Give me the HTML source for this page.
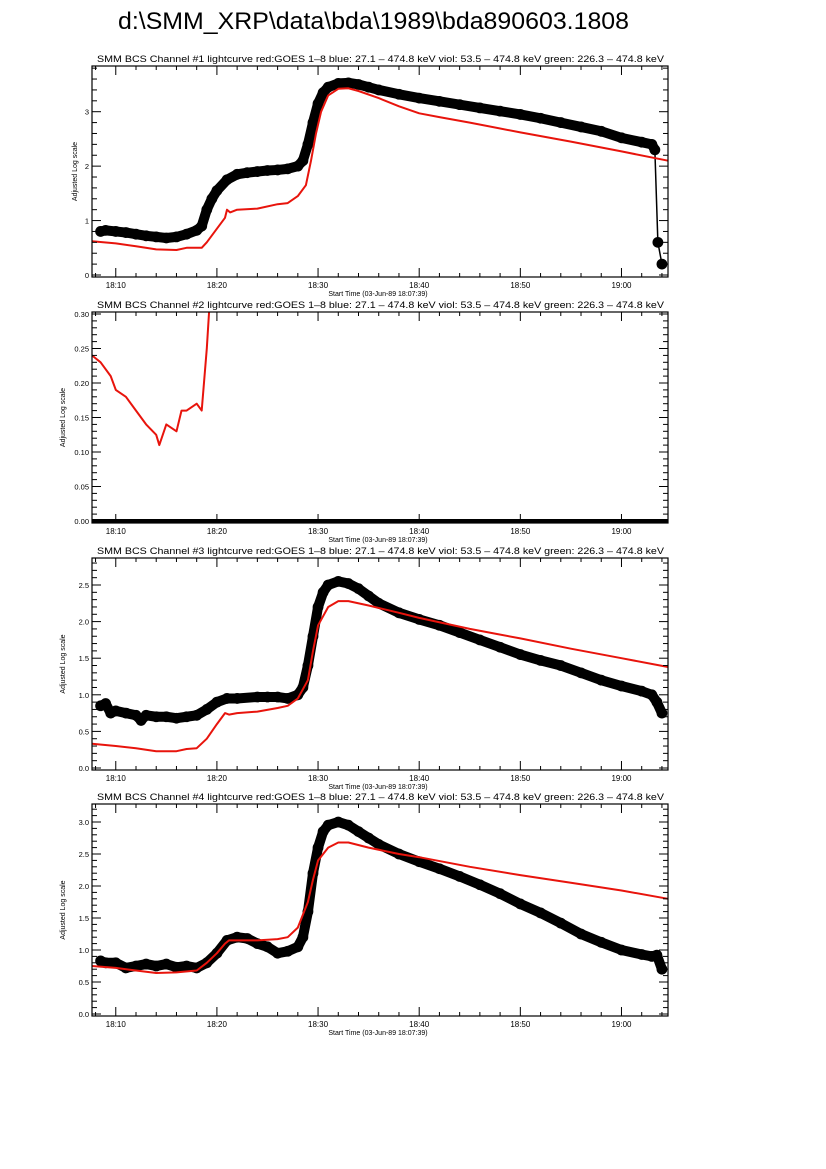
<!DOCTYPE html>
<html><head><meta charset="utf-8">
<style>
body{margin:0;background:#fff;}
svg{display:block;font-family:"Liberation Sans",sans-serif;}
</style></head>
<body>
<svg id="fig" width="826" height="1169" viewBox="0 0 826 1169" xmlns="http://www.w3.org/2000/svg">
<rect width="826" height="1169" fill="#fff"/>
<text x="118" y="29" font-size="24" textLength="511" lengthAdjust="spacingAndGlyphs">d:\SMM_XRP\data\bda\1989\bda890603.1808</text>
</svg>
<script>
// time in minutes after 18:00
const t1b=[8.5,9,10,11,12,13,14,15,16,17,18,18.5,19,19.5,20,21,22,23,24,25,26,27,28,28.5,29,29.5,30,30.5,31,32,33,34,35,36,38,40,42,44,46,48,50,52,54,56,58,60,62,63,63.3,63.6,64];
const v1b=[0.8,0.82,0.8,0.78,0.75,0.72,0.7,0.68,0.7,0.75,0.82,0.9,1.2,1.4,1.55,1.75,1.85,1.88,1.9,1.92,1.93,1.95,2.0,2.1,2.4,2.8,3.15,3.35,3.45,3.52,3.53,3.5,3.45,3.4,3.32,3.25,3.19,3.13,3.07,3.01,2.95,2.88,2.8,2.72,2.64,2.52,2.44,2.4,2.3,0.6,0.2];
const t1r=[7.65,10,12,14,16,17,18,18.5,19,20,20.8,21,21.3,22,24,26,27,28,28.8,29.3,29.8,30.3,31,32,33,34,36,38,40,42,45,50,55,60,64.6];
const v1r=[0.62,0.58,0.53,0.47,0.46,0.5,0.5,0.5,0.6,0.85,1.05,1.2,1.15,1.2,1.22,1.3,1.32,1.45,1.65,2.1,2.6,3.0,3.3,3.42,3.43,3.38,3.25,3.1,2.97,2.9,2.8,2.62,2.45,2.27,2.1];
const t2b=[7.65,64.6];
const v2b=[0,0];
const t2r=[7.65,8.5,9.5,10,11,12,13,14,14.3,15,16,16.5,17,18,18.5,19,19.3];
const v2r=[0.24,0.23,0.21,0.19,0.18,0.16,0.14,0.125,0.11,0.14,0.13,0.16,0.16,0.17,0.16,0.25,0.32];
const t3b=[8.5,9,9.5,10,11,12,12.5,13,14,15,16,17,18,19,20,21,22,24,25,26,27,28,28.5,29,29.5,30,30.5,31,32,33,34,35,36,38,40,42,44,46,48,50,52,54,56,58,60,62,63,63.5,64];
const v3b=[0.85,0.88,0.75,0.78,0.75,0.72,0.65,0.72,0.7,0.7,0.68,0.7,0.72,0.8,0.9,0.95,0.95,0.97,0.97,0.97,0.95,1.0,1.1,1.4,1.8,2.2,2.4,2.5,2.55,2.52,2.45,2.35,2.25,2.12,2.03,1.95,1.85,1.75,1.65,1.55,1.47,1.4,1.3,1.2,1.12,1.05,1.0,0.9,0.75];
const t3r=[7.65,10,12,14,16,17,18,19,20,20.8,21.2,22,24,26,27,28,29,29.5,30,31,32,33,35,38,40,45,50,55,60,64.6];
const v3r=[0.33,0.3,0.27,0.23,0.23,0.26,0.27,0.4,0.6,0.75,0.73,0.75,0.77,0.82,0.85,0.95,1.2,1.6,1.95,2.2,2.28,2.28,2.22,2.12,2.05,1.9,1.77,1.63,1.5,1.38];
const t4b=[8.5,9,10,11,12,13,14,15,16,17,18,19,20,21,22,23,24,25,26,27,28,28.5,29,29.5,30,30.5,31,32,33,34,35,36,38,40,42,44,46,48,50,52,54,56,58,60,62,63,63.5,64];
const v4b=[0.83,0.8,0.8,0.72,0.75,0.78,0.75,0.78,0.73,0.75,0.72,0.8,0.95,1.15,1.2,1.18,1.1,1.05,0.95,0.98,1.05,1.2,1.6,2.2,2.6,2.85,2.95,3.0,2.95,2.85,2.75,2.65,2.5,2.38,2.27,2.15,2.02,1.88,1.72,1.58,1.42,1.25,1.12,1.0,0.93,0.9,0.92,0.7];
const t4r=[7.65,10,12,14,16,18,19,20,20.8,21.2,22,24,26,27,28,29,29.5,30,31,32,33,35,38,40,45,50,55,60,64.6];
const v4r=[0.75,0.72,0.68,0.64,0.65,0.68,0.8,0.95,1.1,1.15,1.15,1.15,1.17,1.2,1.35,1.75,2.1,2.4,2.6,2.68,2.68,2.6,2.5,2.45,2.3,2.17,2.05,1.93,1.8];
const xTickLabels=["18:10","18:20","18:30","18:40","18:50","19:00"];
const xTickMins=[10,20,30,40,50,60];

const NS="http://www.w3.org/2000/svg";
const fig=document.getElementById('fig');
function el(tag,attrs,parent){const e=document.createElementNS(NS,tag);for(const k in attrs)e.setAttribute(k,attrs[k]);(parent||fig).appendChild(e);return e;}
const X0=92,X1=668,T0=7.65,T1=64.6;
function xs(t){return X0+(t-T0)/(T1-T0)*(X1-X0);}

const panels=[
 {n:1,top:66,bot:277,y0:275,yv:3,yp:111.7,min:-0.04,max:3.84,maj:1,minr:0.2,dec:0,tb:t1b,vb:v1b,tr:t1r,vr:v1r,dots:true},
 {n:2,top:312,bot:523,y0:521,yv:0.30,yp:314,min:-0.003,max:0.305,maj:0.05,minr:0.01,dec:2,tb:t2b,vb:v2b,tr:t2r,vr:v2r,dots:false},
 {n:3,top:558,bot:770,y0:768,yv:2.5,yp:585,min:-0.03,max:2.87,maj:0.5,minr:0.1,dec:1,tb:t3b,vb:v3b,tr:t3r,vr:v3r,dots:true},
 {n:4,top:804,bot:1016,y0:1014,yv:3.0,yp:822,min:-0.03,max:3.28,maj:0.5,minr:0.1,dec:1,tb:t4b,vb:v4b,tr:t4r,vr:v4r,dots:true}
];
panels.forEach(p=>{
 const g=el('g',{});
 
 
 const ys=v=>p.y0+(v/p.yv)*(p.yp-p.y0);
 const st=el('text',{x:97,y:p.top-4,'font-size':9,textLength:567,lengthAdjust:'spacingAndGlyphs'},g);
 st.textContent='SMM BCS Channel #'+p.n+' lightcurve  red:GOES 1\u20138  blue: 27.1 \u2013 474.8 keV  viol: 53.5 \u2013 474.8 keV  green: 226.3 \u2013 474.8 keV';
 
 
 const cid='clip'+p.n;
 const cp=el('clipPath',{id:cid},g);el('rect',{x:X0-6,y:p.top,width:X1-X0+10,height:p.bot-p.top},cp);
 const dg=el('g',{'clip-path':'url(#'+cid+')'},g);
 if(p.dots){
  for(let i=1;i<p.tb.length;i++){
   const xa=xs(p.tb[i-1]),ya=ys(p.vb[i-1]),xb=xs(p.tb[i]),yb=ys(p.vb[i]);
   const d=Math.hypot(xb-xa,yb-ya);
   const thin=(Math.abs(xb-xa)<4.5&&d>15);
   const sg=el('line',{x1:xa,y1:ya,x2:xb,y2:yb,stroke:'#000','stroke-width':thin?1.5:10,'stroke-linecap':'round'},dg);
   
   
  }
  p.tb.forEach((t,i)=>{
   const c=el('circle',{cx:xs(t),cy:ys(p.vb[i]),r:5.4,fill:'#000'},dg);
   
   
  });
 } else {
  const bpts=p.tb.map((t,i)=>xs(t).toFixed(1)+','+ys(p.vb[i]).toFixed(1)).join(' ');
  const bl=el('polyline',{points:bpts,fill:'none',stroke:'#000','stroke-width':4},dg);
  
  
 }
 const rpts=p.tr.map((t,i)=>xs(t).toFixed(1)+','+ys(p.vr[i]).toFixed(1)).join(' ');
 const rl=el('polyline',{points:rpts,fill:'none',stroke:'#e8140c','stroke-width':2,'stroke-linejoin':'round'},dg);
 
 
 const fr=el('rect',{x:X0,y:p.top,width:X1-X0,height:p.bot-p.top,fill:'none',stroke:'#000','stroke-width':1.2},g);
 
 
 for(let m=8;m<=64;m+=2){
  const x=xs(m),L=(m%10===0)?9:4;
  el('line',{x1:x,x2:x,y1:p.bot,y2:p.bot-L,stroke:'#000'},g);
  el('line',{x1:x,x2:x,y1:p.top,y2:p.top+L,stroke:'#000'},g);
 }
 xTickMins.forEach((m,i)=>{
  const tl=el('text',{x:xs(m),y:p.bot+11,'font-size':8,'text-anchor':'middle'},g);
  tl.textContent=xTickLabels[i];
  
  
 });
 const xl=el('text',{x:378,y:p.bot+19,'font-size':7,'text-anchor':'middle'},g);
 xl.textContent='Start Time (03-Jun-89 18:07:39)';
 
 
 const nMin=Math.ceil(p.min/p.minr-1e-6),nMax=Math.floor(p.max/p.minr+1e-6);
 const per=Math.round(p.maj/p.minr);
 for(let k=nMin;k<=nMax;k++){
  const v=k*p.minr,y=ys(v),major=(k%per===0),L=major?9:5;
  if(y<p.top-0.5||y>p.bot+0.5)continue;
  el('line',{x1:X0,x2:X0+L,y1:y,y2:y,stroke:'#000'},g);
  el('line',{x1:X1,x2:X1-L,y1:y,y2:y,stroke:'#000'},g);
  if(major){
   const yl=el('text',{x:X0-3,y:y+3,'font-size':7.5,'text-anchor':'end'},g);
   yl.textContent=v.toFixed(p.dec);
   
   
  }
 }
 const cy=(p.top+p.bot)/2;
 const yt=el('text',{x:0,y:0,'font-size':7,'text-anchor':'middle',transform:'translate('+(p.n==1?77:65)+','+cy+') rotate(-90)'},g);
 yt.textContent='Adjusted Log scale';
 
 
});
</script>
</body></html>
